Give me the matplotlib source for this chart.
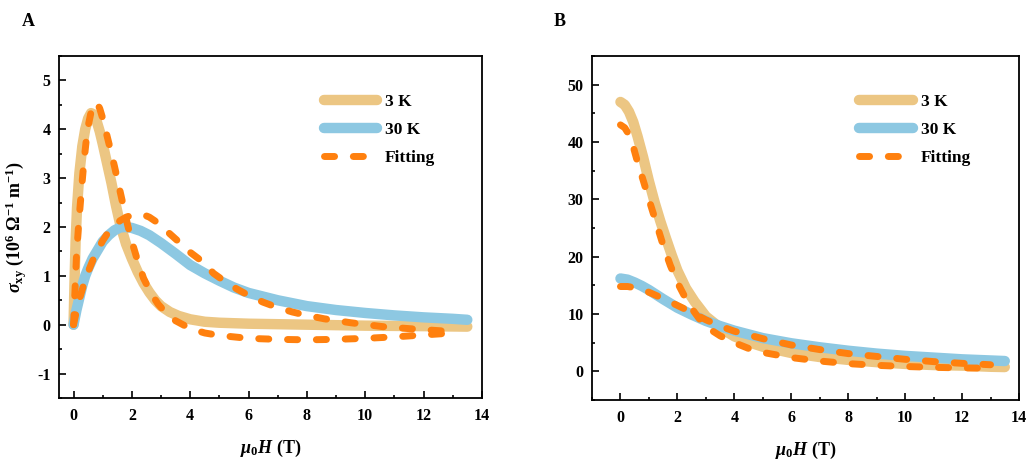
import matplotlib
matplotlib.use("Agg")
import matplotlib.pyplot as plt
from matplotlib.ticker import MultipleLocator

# panel A: sigma_xy (10^6 Ohm^-1 m^-1) vs mu0H (T)
a_h_3k = [0, 0.03, 0.07, 0.12, 0.2, 0.3, 0.4, 0.5, 0.6, 0.7, 0.8, 0.9, 1.0, 1.15, 1.3, 1.45, 1.6, 1.8,
          2.0, 2.2, 2.4, 2.6, 2.8, 3.0, 3.3, 3.6, 4.0, 4.5, 5, 6, 7, 8, 10, 12, 13.5]
a_s_3k = [0, 0.8, 1.7, 2.4, 3.1, 3.65, 4.0, 4.22, 4.33, 4.3, 4.15, 3.95, 3.7, 3.3, 2.9, 2.45, 2.05, 1.65,
          1.35, 1.08, 0.85, 0.66, 0.5, 0.38, 0.26, 0.18, 0.11, 0.06, 0.04, 0.02, 0.01, 0.0, -0.02, -0.03, -0.04]

a_h_30k = [0, 0.05, 0.1, 0.2, 0.3, 0.4, 0.5, 0.65, 0.8, 1.0, 1.2, 1.4, 1.6, 1.8, 2.0, 2.3, 2.6, 3.0,
           3.5, 4.0, 4.5, 5, 5.5, 6, 7, 8, 9, 10, 11, 12, 13, 13.5]
a_s_30k = [0, 0.15, 0.3, 0.55, 0.8, 1.0, 1.15, 1.35, 1.5, 1.7, 1.83, 1.93, 1.99, 2.0, 1.98, 1.92, 1.83, 1.67,
           1.45, 1.22, 1.05, 0.9, 0.76, 0.65, 0.5, 0.38, 0.3, 0.24, 0.19, 0.15, 0.12, 0.1]

a_h_fit3k = [0, 0.05, 0.1, 0.18, 0.27, 0.35, 0.44, 0.52, 0.6, 0.68, 0.75, 0.82, 0.9, 1.0, 1.1, 1.25, 1.4,
             1.55, 1.7, 1.85, 2.0, 2.2, 2.4, 2.65, 2.9, 3.2, 3.5, 4, 4.5, 5, 6, 7, 8, 9, 10, 11, 12, 13]
a_s_fit3k = [0, 0.7, 1.4, 2.1, 2.75, 3.3, 3.8, 4.12, 4.35, 4.5, 4.55, 4.52, 4.42, 4.22, 3.98, 3.62, 3.25,
             2.85, 2.45, 2.05, 1.7, 1.3, 0.95, 0.65, 0.42, 0.22, 0.08, -0.08, -0.17, -0.22, -0.28, -0.3,
             -0.31, -0.3, -0.28, -0.25, -0.21, -0.17]

a_h_fit30k = [0, 0.1, 0.2, 0.35, 0.5, 0.65, 0.8, 1.0, 1.2, 1.4, 1.6, 1.8, 2.0, 2.2, 2.4, 2.6, 2.8, 3.0,
              3.3, 3.6, 4.0, 4.4, 4.8, 5.2, 5.6, 6.0, 6.5, 7, 7.5, 8, 8.6, 9.5, 10.6, 11.7, 12.7, 13.2]
a_s_fit30k = [0, 0.28, 0.52, 0.82, 1.08, 1.3, 1.5, 1.72, 1.9, 2.03, 2.13, 2.2, 2.24, 2.26, 2.25, 2.2, 2.12,
              2.02, 1.86, 1.7, 1.48, 1.3, 1.05, 0.88, 0.73, 0.6, 0.46, 0.35, 0.26, 0.19, 0.12, 0.04,
              -0.04, -0.09, -0.13, -0.15]

# panel B
b_h_3k = [0, 0.15, 0.3, 0.45, 0.6, 0.8, 1.0, 1.2, 1.4, 1.6, 1.8, 2.0, 2.3, 2.6, 3.0, 3.5, 4, 4.5, 5,
          6, 7, 8, 9, 10, 11, 12, 13, 13.5]
b_s_3k = [47, 46.5, 45.3, 43.5, 41, 37.3, 33.2, 29.5, 26.2, 23.2, 20.3, 17.6, 14.5, 12.2, 9.6, 7.6, 6.1,
          5.1, 4.3, 3.2, 2.5, 2.0, 1.6, 1.3, 1.1, 1.0, 0.8, 0.75]

b_h_30k = [0, 0.25, 0.5, 0.75, 1, 1.5, 2, 2.5, 3, 3.5, 4, 5, 6, 7, 8, 9, 10, 11, 12, 13, 13.5]
b_s_30k = [16.2, 16.0, 15.5, 14.9, 14.2, 12.6, 11.1, 9.9, 8.8, 7.9, 7.1, 5.8, 4.9, 4.2, 3.6, 3.1, 2.7,
           2.4, 2.1, 1.9, 1.8]

b_h_fit3k = [0, 0.15, 0.3, 0.45, 0.6, 0.8, 1.0, 1.25, 1.5, 1.75, 2.0, 2.25, 2.5, 2.75, 3, 3.5, 4, 4.5,
             5, 6, 7, 8, 9, 10, 11, 12, 13]
b_s_fit3k = [43, 42.5, 41.3, 39.2, 36.5, 33.3, 30, 26, 22, 18.5, 15.5, 13.1, 11, 9.3, 7.8, 6.2, 5.0,
             4.0, 3.3, 2.4, 1.8, 1.35, 1.05, 0.85, 0.7, 0.6, 0.55]

b_h_fit30k = [0, 0.25, 0.5, 0.75, 1, 1.5, 2, 2.5, 3, 3.5, 4, 5, 6, 7, 8, 9, 10, 11, 12, 13]
b_s_fit30k = [14.8, 14.8, 14.6, 14.3, 13.8, 12.7, 11.5, 10.3, 9.0, 7.9, 7.0, 5.7, 4.6, 3.8, 3.1, 2.6,
              2.1, 1.7, 1.4, 1.15]

labels = ["3 K", "30 K", "Fitting"]

tan = "#ECC683"
blue = "#8DC8E2"
orange = "#FF800E"

plt.rcParams["font.family"] = "Liberation Serif"
plt.rcParams["font.weight"] = "bold"
plt.rcParams["mathtext.fontset"] = "custom"
plt.rcParams["mathtext.rm"] = "Liberation Serif:bold"
plt.rcParams["mathtext.it"] = "Liberation Serif:italic:bold"
plt.rcParams["mathtext.bf"] = "Liberation Serif:bold"
plt.rcParams["axes.unicode_minus"] = False

fig = plt.figure(figsize=(10.29, 4.61), dpi=100)
ax_a = fig.add_axes([0.0573, 0.1367, 0.411, 0.742])
ax_b = fig.add_axes([0.5753, 0.1323, 0.415, 0.746])

fit_dash = (0, (1.45, 2.7))


def draw(ax, h3, s3, h30, s30, hf3, sf3, hf30, sf30):
    ax.plot(h3, s3, color=tan, lw=7.5, solid_capstyle="round", solid_joinstyle="round", label=labels[0])
    ax.plot(h30, s30, color=blue, lw=7.5, solid_capstyle="round", solid_joinstyle="round", label=labels[1])
    ax.plot(hf3, sf3, color=orange, lw=5, ls=fit_dash, dash_capstyle="round", label=labels[2])
    ax.plot(hf30, sf30, color=orange, lw=5, ls=fit_dash, dash_capstyle="round")
    ax.xaxis.set_major_locator(MultipleLocator(2))
    ax.xaxis.set_minor_locator(MultipleLocator(1))
    ax.tick_params(which="both", direction="in", labelsize=11.5, width=1.2)
    ax.tick_params(which="major", length=5)
    ax.tick_params(which="minor", length=2.5)
    ax.tick_params(axis="x", pad=7)
    ax.tick_params(axis="y", pad=6)
    for t in ax.get_xticklabels() + ax.get_yticklabels():
        t.set_fontweight("bold")
    for sp in ax.spines.values():
        sp.set_linewidth(1.3)
    ax.set_xlabel(r"$\mu_0H$ (T)", fontsize=13, fontweight="bold", labelpad=10)
    ax.legend(frameon=False, loc="upper left", bbox_to_anchor=(0.605, 0.915),
              prop={"size": 12.5, "weight": "bold"}, handlelength=3.1, labelspacing=0.68,
              handletextpad=0.45, borderpad=0)


draw(ax_a, a_h_3k, a_s_3k, a_h_30k, a_s_30k, a_h_fit3k, a_s_fit3k, a_h_fit30k, a_s_fit30k)
ax_a.set_xlim(-0.5, 14)
ax_a.set_ylim(-1.5, 5.5)
ax_a.yaxis.set_major_locator(MultipleLocator(1))
ax_a.yaxis.set_minor_locator(MultipleLocator(0.5))
ax_a.set_ylabel(r"$\sigma_{\rm xy}$ (10$^{6}$ Ω$^{-1}$ m$^{-1}$)", fontsize=13, fontweight="bold", labelpad=6)

draw(ax_b, b_h_3k, b_s_3k, b_h_30k, b_s_30k, b_h_fit3k, b_s_fit3k, b_h_fit30k, b_s_fit30k)
ax_b.set_xlim(-1, 14)
ax_b.set_ylim(-5, 55)
ax_b.yaxis.set_major_locator(MultipleLocator(10))
ax_b.yaxis.set_minor_locator(MultipleLocator(5))

fig.text(28 / 1029, 1 - 22 / 461, "A", fontsize=13, fontweight="bold", ha="center", va="center")
fig.text(560 / 1029, 1 - 22 / 461, "B", fontsize=13, fontweight="bold", ha="center", va="center")

fig.savefig("out.png", dpi=100)
